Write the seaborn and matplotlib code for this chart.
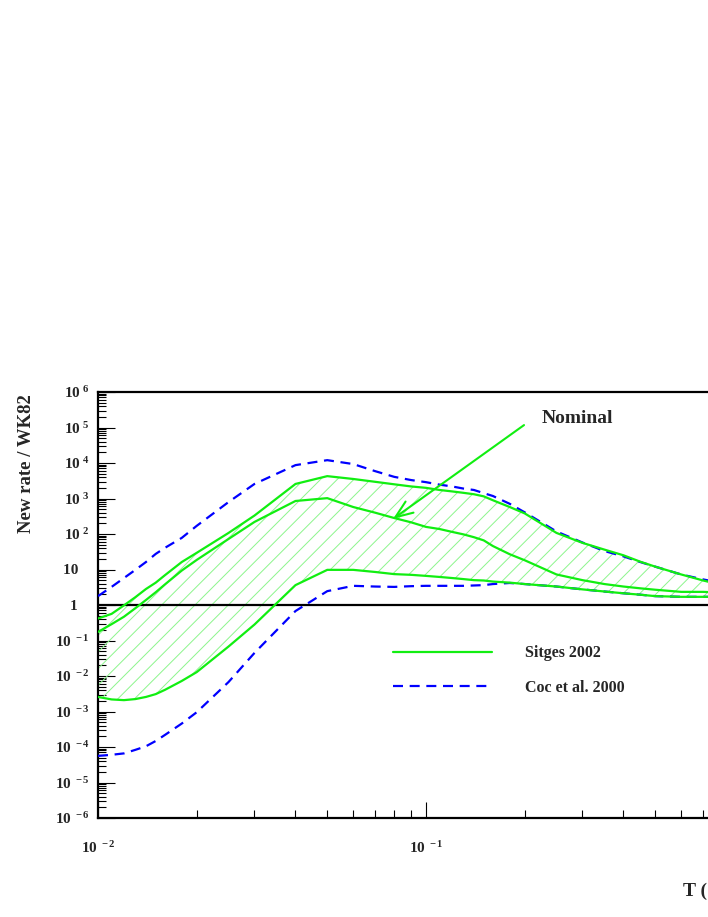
import numpy as np
import pandas as pd
import matplotlib
matplotlib.use("Agg")
import matplotlib.pyplot as plt
import seaborn as sns

# temperature grid (T9) of the tabulated rates
T9 = [0.010, 0.011, 0.012, 0.013, 0.014, 0.015, 0.016, 0.018, 0.020, 0.025,
      0.030, 0.040, 0.050, 0.060, 0.070, 0.080, 0.090, 0.100, 0.110, 0.120,
      0.130, 0.140, 0.150, 0.160, 0.180, 0.200, 0.250, 0.300, 0.350, 0.400,
      0.450, 0.500, 0.600, 0.700, 0.800]

# log10(new rate / WK82)
sitges_upper = [-0.38, -0.25, -0.01, 0.22, 0.45, 0.63, 0.84, 1.21, 1.47, 2.03,
                2.52, 3.41, 3.63, 3.55, 3.47, 3.40, 3.34, 3.30, 3.24, 3.20,
                3.16, 3.12, 3.06, 2.95, 2.76, 2.58, 2.03, 1.75, 1.56, 1.40,
                1.22, 1.08, 0.86, 0.69, 0.56]
sitges_nominal = [-0.76, -0.54, -0.33, -0.09, 0.14, 0.36, 0.58, 0.97, 1.27, 1.86,
                  2.34, 2.93, 3.01, 2.76, 2.60, 2.45, 2.33, 2.20, 2.14, 2.06,
                  1.99, 1.91, 1.82, 1.66, 1.43, 1.26, 0.86, 0.70, 0.59, 0.52,
                  0.47, 0.43, 0.37, 0.37, 0.35]
sitges_lower = [-2.59, -2.66, -2.68, -2.65, -2.59, -2.51, -2.39, -2.14, -1.89, -1.17,
                -0.55, 0.56, 0.99, 0.99, 0.93, 0.87, 0.85, 0.82, 0.79, 0.76,
                0.73, 0.70, 0.69, 0.66, 0.63, 0.59, 0.52, 0.44, 0.38, 0.33,
                0.29, 0.25, 0.23, 0.23, 0.23]
coc_upper = [0.25, 0.51, 0.76, 0.99, 1.21, 1.44, 1.61, 1.89, 2.23, 2.90,
             3.41, 3.94, 4.08, 3.97, 3.77, 3.61, 3.52, 3.46, 3.39, 3.34,
             3.28, 3.24, 3.15, 3.07, 2.85, 2.61, 2.07, 1.76, 1.52, 1.37,
             1.21, 1.08, 0.86, 0.72, 0.62]
coc_lower = [-4.25, -4.22, -4.18, -4.08, -3.98, -3.83, -3.66, -3.34, -3.02, -2.17,
             -1.35, -0.17, 0.39, 0.54, 0.52, 0.51, 0.53, 0.54, 0.54, 0.54,
             0.54, 0.55, 0.56, 0.59, 0.62, 0.59, 0.52, 0.44, 0.38, 0.33,
             0.29, 0.25, 0.23, 0.23, 0.23]

GREEN = "#11ee11"
BLUE = "#0000ff"

curves = [("Sitges 2002", "upper", sitges_upper),
          ("Sitges 2002", "nominal", sitges_nominal),
          ("Sitges 2002", "lower", sitges_lower),
          ("Coc et al. 2000", "coc upper", coc_upper),
          ("Coc et al. 2000", "coc lower", coc_lower)]
frames = []
for src, name, vals in curves:
    frames.append(pd.DataFrame({"T": T9, "rate": 10 ** np.array(vals),
                                "source": src, "curve": name}))
df = pd.concat(frames, ignore_index=True)

sns.set_style("ticks")
plt.rcParams["font.family"] = ["Liberation Serif", "DejaVu Serif"]
plt.rcParams["font.weight"] = "bold"
plt.rcParams["mathtext.fontset"] = "custom"
plt.rcParams["mathtext.rm"] = "Liberation Serif:bold"
plt.rcParams["mathtext.it"] = "Liberation Serif:bold"
plt.rcParams["mathtext.bf"] = "Liberation Serif:bold"
plt.rcParams["hatch.linewidth"] = 0.7

fig = plt.figure(figsize=(7.08, 9.17), dpi=100)
# axes run to T9 = 1, the picture is cut at the right edge
ax = fig.add_axes([98 / 708, 1 - 818 / 917, 656 / 708, 426 / 917])
ax.set_xscale("log")
ax.set_yscale("log")

# hatched band between the Sitges limits
ax.fill_between(T9, 10 ** np.array(sitges_lower), 10 ** np.array(sitges_upper),
                facecolor="none", edgecolor="#8cf58c", hatch="//", linewidth=0,
                zorder=1)

sns.lineplot(data=df, x="T", y="rate", hue="source", style="source",
             units="curve", estimator=None, ax=ax, lw=1.6,
             palette={"Sitges 2002": GREEN, "Coc et al. 2000": BLUE},
             dashes={"Sitges 2002": "", "Coc et al. 2000": (4.5, 3)},
             hue_order=["Coc et al. 2000", "Sitges 2002"],
             style_order=["Coc et al. 2000", "Sitges 2002"], zorder=3)

ax.axhline(1, color="black", lw=1.6, zorder=2)

ax.set_xlim(0.01, 1.0)
ax.set_ylim(1e-6, 1e6)

exps = list(range(-6, 7))
ylabels = []
for e in exps:
    if e == 0:
        ylabels.append("1   ")
    elif e == 1:
        ylabels.append("10   ")
    else:
        ylabels.append(r"$10^{\ %d}$" % e)
ax.set_yticks([10.0 ** e for e in exps], labels=ylabels)
ax.set_xticks([0.01, 0.1], labels=[r"$10^{\ -2}$", r"$10^{\ -1}$"])
ax.yaxis.set_minor_locator(matplotlib.ticker.LogLocator(base=10, subs=np.arange(2, 10), numticks=60))
ax.xaxis.set_minor_locator(matplotlib.ticker.LogLocator(base=10, subs=np.arange(2, 10), numticks=60))
ax.yaxis.set_minor_formatter(matplotlib.ticker.NullFormatter())
ax.xaxis.set_minor_formatter(matplotlib.ticker.NullFormatter())

ax.tick_params(axis="both", which="both", direction="in", top=False, right=False,
               color="black", width=0.8)
ax.tick_params(axis="y", which="major", length=12, pad=6, labelsize=11)
ax.tick_params(axis="y", which="minor", length=6)
ax.tick_params(axis="x", which="major", length=11.5, pad=16, labelsize=11)
ax.tick_params(axis="x", which="minor", length=6)
for side in ["top", "left", "bottom"]:
    ax.spines[side].set_linewidth(1.6)
    ax.spines[side].set_color("black")
ax.spines["right"].set_visible(False)
ax.set_xlabel("")
ax.set_ylabel("")

# arrow pointing at the nominal rate
ax.annotate("", xy=(0.0793, 265), xytext=(0.199, 1.17e5),
            arrowprops=dict(arrowstyle="->,head_length=0.9,head_width=0.35",
                            color=GREEN, lw=1.5, mutation_scale=14,
                            shrinkA=0, shrinkB=0))
ax.text(0.2258, 1.85e5, "Nominal", fontsize=14, fontweight="bold",
        ha="left", va="center")

old = ax.get_legend()
handles = old.legend_handles
labels = [t.get_text() for t in old.texts]
order = [labels.index("Sitges 2002"), labels.index("Coc et al. 2000")]
for h in handles:
    h.set_linewidth(1.6)
ax.legend([handles[i] for i in order], [labels[i] for i in order],
          loc="center left", bbox_to_anchor=((393 - 98) / 656, (818 - 670.5) / 426),
          frameon=False, borderpad=0, borderaxespad=0, handlelength=6.2,
          handletextpad=2.05, labelspacing=1.15,
          prop={"family": "Liberation Serif", "weight": "bold", "size": 11.5})

fig.text(27 / 708, 1 - 464 / 917, "New rate / WK82", rotation=90, fontsize=13.5,
         fontweight="bold", ha="center", va="center")
fig.text(683 / 708, 1 - 891.5 / 917, "T (GK)", fontsize=14, fontweight="bold",
         ha="left", va="center")

fig.savefig("out.png", dpi=100)
